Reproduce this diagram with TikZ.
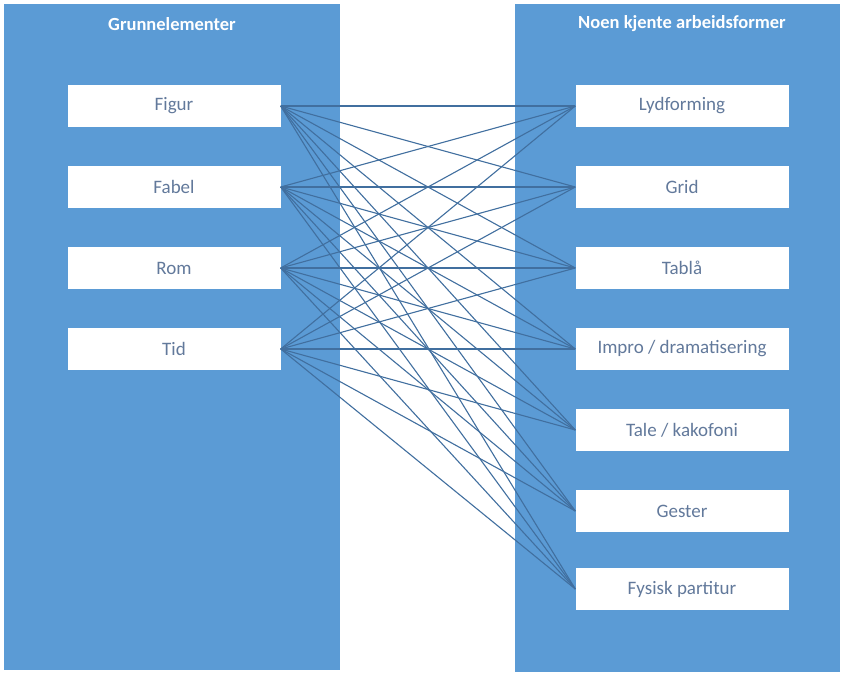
\documentclass[tikz,border=0pt]{standalone}
\usepackage{fontspec}
\setmainfont{Carlito}
\definecolor{panelblue}{HTML}{5B9BD5}
\definecolor{lineblue}{HTML}{416F9F}
\definecolor{boxtext}{HTML}{62799B}
\tikzset{
	panel/.style={fill=panelblue, draw=none},
	boks/.style={fill=white, draw=none, minimum width=213pt, minimum height=42pt, inner sep=0pt, text=boxtext, font=\fontsize{19}{22}\selectfont},
	overskrift/.style={text=white, font=\bfseries\fontsize{18.5}{22}\selectfont},
	kobling/.style={draw=lineblue, line width=1.1pt}
}
\begin{document}
\begin{tikzpicture}[x=1pt,y=-1pt]
	\useasboundingbox (0,0) rectangle (843,674);
	\fill[white] (0,0) rectangle (843,674);

	\fill[panel] (4,4) rectangle (340,670);
	\fill[panel] (515,4) rectangle (840,672);

	\node[overskrift] (h1) at (172,24) {Grunnelementer};
	\node[overskrift] (h2) at (682,24) {Noen kjente arbeidsformer};

	\node[boks] (l1) at (174,106) {Figur};
	\node[boks] (l2) at (174,187) {Fabel};
	\node[boks] (l3) at (174,268) {Rom};
	\node[boks] (l4) at (174,349) {Tid};

	\node[boks] (r1) at (682,106) {Lydforming};
	\node[boks] (r2) at (682,187) {Grid};
	\node[boks] (r3) at (682,268) {Tablå};
	\node[boks] (r4) at (682,349) {Impro / dramatisering};
	\node[boks] (r5) at (682,430) {Tale / kakofoni};
	\node[boks] (r6) at (682,511) {Gester};
	\node[boks] (r7) at (682,589) {Fysisk partitur};

	\foreach \i in {1,...,4}
		\foreach \j in {1,...,7}
			\draw[kobling] (l\i.east) -- (r\j.west);
\end{tikzpicture}
\end{document}
